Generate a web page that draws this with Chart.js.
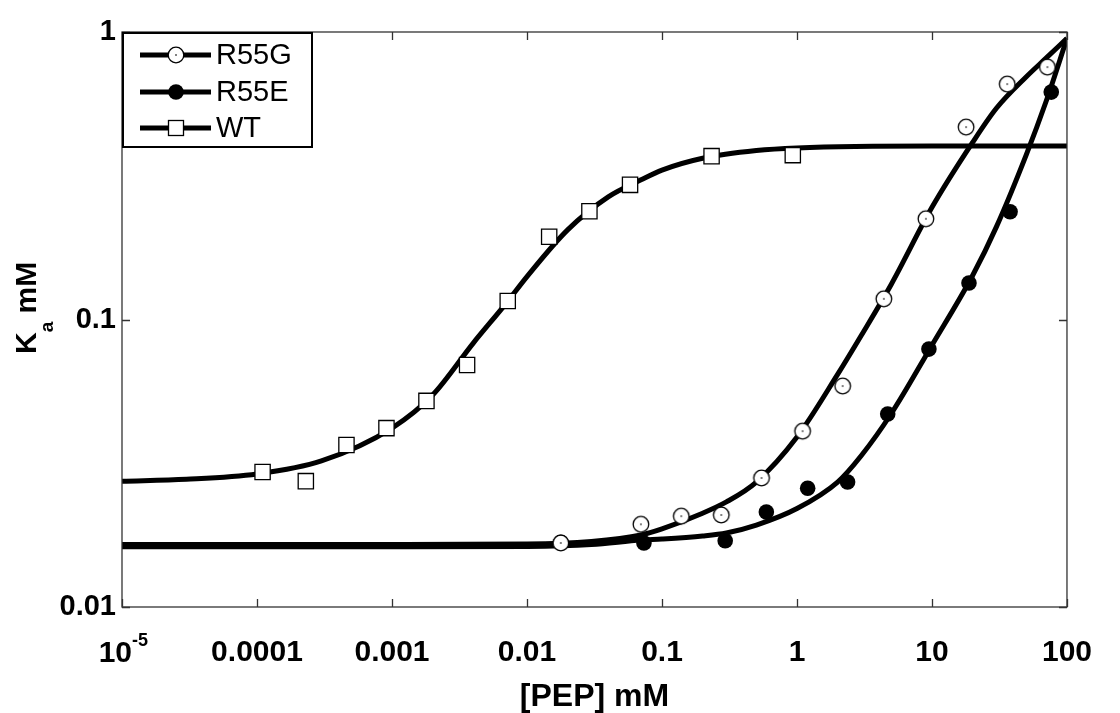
<!DOCTYPE html>
<html><head><meta charset="utf-8">
<script src="https://cdn.jsdelivr.net/npm/chart.js@4.4.0/dist/chart.umd.min.js"></script>
<style>html,body{margin:0;padding:0;background:#fff;}</style>
</head><body>
<canvas id="c" width="1120" height="713" style="width:1120px;height:713px;display:block"></canvas>
<script>
// ---- axis ticks ----
const xTickValues = [1e-5, 1e-4, 1e-3, 1e-2, 1e-1, 1, 10, 100];
const xTickLabels = ['10', '0.0001', '0.001', '0.01', '0.1', '1', '10', '100'];
const xFirstExponent = '-5';
const yTickValues = [0.01, 0.1, 1];
const yTickLabels = ['0.01', '0.1', '1'];

// ---- measured points ----
const r55gX = [0.0178, 0.0698, 0.139, 0.275, 0.546, 1.1, 2.18, 4.40, 9.02, 17.9, 36.1, 71.6];
const r55gY = [0.0167, 0.0194, 0.0207, 0.0209, 0.0281, 0.0409, 0.0587, 0.118, 0.224, 0.467, 0.659, 0.755];
const r55eX = [0.0178, 0.0735, 0.294, 0.593, 1.20, 2.37, 4.70, 9.49, 18.8, 37.9, 76.5];
const r55eY = [0.0168, 0.0167, 0.0170, 0.0214, 0.0259, 0.0272, 0.0469, 0.0789, 0.134, 0.237, 0.618];
const wtX = [1.1e-4, 2.3e-4, 4.6e-4, 9.1e-4, 1.8e-3, 3.6e-3, 7.2e-3, 0.0146, 0.029, 0.058, 0.233, 0.931];
const wtY = [0.0295, 0.0274, 0.0366, 0.0419, 0.0521, 0.0695, 0.116, 0.194, 0.238, 0.294, 0.370, 0.373];

// ---- fitted curves ----
const r55gCurveX = [1e-5, 1e-3, 0.01, 0.03, 0.07, 0.1, 0.2, 0.3, 0.5, 1, 2, 3, 5, 10, 20, 30, 50, 70, 100];
const r55gCurveY = [0.0165, 0.0165, 0.01655, 0.0169, 0.0178, 0.0187, 0.0212, 0.0232, 0.0272, 0.039, 0.0644, 0.0881, 0.1326, 0.2455, 0.413, 0.543, 0.699, 0.811, 0.95];
const r55eCurveX = [1e-5, 1e-3, 0.01, 0.03, 0.07, 0.1, 0.2, 0.3, 0.5, 1, 2, 3, 5, 10, 20, 30, 50, 70, 100];
const r55eCurveY = [0.0162, 0.0162, 0.01625, 0.0165, 0.0171, 0.01724, 0.01766, 0.01809, 0.01927, 0.0220, 0.0272, 0.03365, 0.0471, 0.0814, 0.1422, 0.210, 0.3747, 0.573, 0.95];
const wtCurveX = [1e-5, 3e-5, 1e-4, 3e-4, 1e-3, 2e-3, 4e-3, 7e-3, 0.01, 0.02, 0.04, 0.07, 0.1, 0.2, 0.5, 1, 10, 100];
const wtCurveY = [0.0274, 0.0278, 0.0290, 0.0322, 0.0419, 0.0546, 0.0828, 0.1138, 0.141, 0.205, 0.267, 0.306, 0.331, 0.364, 0.387, 0.395, 0.401, 0.401];

const seriesNames = ['R55G', 'R55E', 'WT'];
const xTitle = '[PEP] mM';
const yTitleMain = 'K', yTitleSub = 'a', yTitleRest = ' mM';

const FONT = "'Liberation Sans', Arial, Helvetica, sans-serif";
const pts = (xs, ys) => xs.map((x, i) => ({x: x, y: ys[i]}));

// open circle with centre dot marker
function makeDotCircle(r) {
  const s = Math.ceil(r * 2 + 4);
  const cv = document.createElement('canvas');
  cv.width = s; cv.height = s;
  const c = cv.getContext('2d');
  c.beginPath(); c.arc(s / 2, s / 2, r, 0, Math.PI * 2);
  c.fillStyle = '#fff'; c.fill();
  c.lineWidth = 1.3; c.strokeStyle = '#000'; c.stroke();
  c.fillStyle = '#000'; c.fillRect(s / 2 - 0.7, s / 2 - 0.7, 1.4, 1.4);
  return cv;
}
const dotCircle = makeDotCircle(7.8);

const curveStyle = {showLine: true, pointRadius: 0, borderColor: '#000', borderWidth: 5, cubicInterpolationMode: 'monotone', order: 2, fill: false};

const framePlugin = {
  id: 'frame',
  afterDraw(chart) {
    const {ctx, chartArea: a, scales: {x, y}} = chart;
    ctx.save();
    ctx.strokeStyle = '#333'; ctx.lineWidth = 1.3;
    ctx.strokeRect(a.left, a.top, a.right - a.left, a.bottom - a.top);
    const tl = 8;
    ctx.beginPath();
    xTickValues.forEach(v => {
      const px = Math.round(x.getPixelForValue(v)) + 0.5;
      ctx.moveTo(px, a.bottom); ctx.lineTo(px, a.bottom - tl);
      ctx.moveTo(px, a.top); ctx.lineTo(px, a.top + tl);
    });
    yTickValues.forEach(v => {
      const py = Math.round(y.getPixelForValue(v)) + 0.5;
      ctx.moveTo(a.left, py); ctx.lineTo(a.left + tl, py);
      ctx.moveTo(a.right, py); ctx.lineTo(a.right - tl, py);
    });
    ctx.stroke();

    // first x label with exponent
    const px0 = x.getPixelForValue(xTickValues[0]);
    ctx.fillStyle = '#000';
    ctx.textBaseline = 'middle';
    ctx.font = 'bold 30px ' + FONT;
    ctx.textAlign = 'right';
    ctx.fillText(xTickLabels[0], px0 + 10, 654);
    ctx.font = 'bold 18px ' + FONT;
    ctx.textAlign = 'left';
    ctx.fillText(xFirstExponent, px0 + 10, 641);

    // y title with subscript
    ctx.save();
    ctx.translate(36, 354);
    ctx.rotate(-Math.PI / 2);
    ctx.textAlign = 'left'; ctx.textBaseline = 'alphabetic';
    ctx.font = 'bold 30px ' + FONT;
    ctx.fillText(yTitleMain, 0, 0);
    let w = ctx.measureText(yTitleMain).width;
    ctx.font = 'bold 19px ' + FONT;
    ctx.fillText(yTitleSub, w, 17);
    w += ctx.measureText(yTitleSub).width;
    ctx.font = 'bold 30px ' + FONT;
    ctx.fillText(yTitleRest, w, 0);
    ctx.restore();

    // legend
    const lx = a.left, ly = a.top, lw = 191, lh = 116;
    ctx.fillStyle = '#fff';
    ctx.fillRect(lx, ly, lw, lh);
    ctx.strokeStyle = '#000'; ctx.lineWidth = 2;
    ctx.strokeRect(lx + 1, ly + 1, lw - 2, lh - 2);
    const rows = [ly + 23, ly + 60, ly + 96];
    chart.data.datasets.filter(d => d.legendRow !== undefined).forEach(d => {
      const ry = rows[d.legendRow];
      ctx.strokeStyle = '#000'; ctx.lineWidth = 5;
      ctx.beginPath(); ctx.moveTo(lx + 18, ry); ctx.lineTo(lx + 89, ry); ctx.stroke();
      const mx = lx + 54;
      if (d.pointStyle === 'rect') {
        ctx.fillStyle = '#fff'; ctx.fillRect(mx - 7.5, ry - 7.5, 15, 15);
        ctx.lineWidth = 1.3; ctx.strokeRect(mx - 7.5, ry - 7.5, 15, 15);
      } else if (d.pointStyle === 'circle') {
        ctx.fillStyle = '#000'; ctx.beginPath(); ctx.arc(mx, ry, 7.8, 0, Math.PI * 2); ctx.fill();
      } else {
        ctx.drawImage(d.pointStyle, mx - d.pointStyle.width / 2, ry - d.pointStyle.height / 2);
      }
      ctx.fillStyle = '#000';
      ctx.font = '29px ' + FONT;
      ctx.textAlign = 'left'; ctx.textBaseline = 'middle';
      ctx.fillText(d.label, lx + 94, ry + 1);
    });
    ctx.restore();
  }
};

new Chart(document.getElementById('c'), {
  type: 'scatter',
  data: {
    datasets: [
      {label: seriesNames[0], legendRow: 0, data: pts(r55gX, r55gY), pointStyle: dotCircle, pointRadius: 8, order: 0},
      {label: seriesNames[1], legendRow: 1, data: pts(r55eX, r55eY), pointStyle: 'circle', pointRadius: 7.8, backgroundColor: '#000', borderColor: '#000', borderWidth: 0, order: 0},
      {label: seriesNames[2], legendRow: 2, data: pts(wtX, wtY), pointStyle: 'rect', pointRadius: 10.8, backgroundColor: '#fff', borderColor: '#000', borderWidth: 1.3, order: 0},
      Object.assign({label: seriesNames[0] + ' fit', data: pts(r55gCurveX, r55gCurveY)}, curveStyle),
      Object.assign({label: seriesNames[1] + ' fit', data: pts(r55eCurveX, r55eCurveY)}, curveStyle),
      Object.assign({label: seriesNames[2] + ' fit', data: pts(wtCurveX, wtCurveY)}, curveStyle)
    ]
  },
  options: {
    responsive: false,
    animation: false,
    devicePixelRatio: 1,
    layout: {padding: {left: 0, top: 32, right: 33, bottom: 0}},
    plugins: {legend: {display: false}, tooltip: {enabled: false}},
    scales: {
      x: {
        type: 'logarithmic', min: 1e-5, max: 100,
        grid: {display: false, drawTicks: false},
        border: {display: false},
        afterBuildTicks: s => { s.ticks = xTickValues.map(v => ({value: v})); },
        afterFit: s => { s.height = 106; },
        ticks: {
          autoSkip: false, maxRotation: 0, padding: 28,
          color: '#000', font: {family: FONT, size: 30, weight: 'bold'},
          callback: (v, i) => i === 0 ? '' : xTickLabels[i]
        },
        title: {display: true, text: xTitle, color: '#000', font: {family: FONT, size: 32, weight: 'bold', lineHeight: 1}, padding: {top: 0, bottom: 0}}
      },
      y: {
        type: 'logarithmic', min: 0.01, max: 1,
        grid: {display: false, drawTicks: false},
        border: {display: false},
        afterBuildTicks: s => { s.ticks = yTickValues.map(v => ({value: v})); },
        afterFit: s => { s.width = 122; },
        ticks: {
          autoSkip: false, padding: 6,
          color: '#000', font: {family: FONT, size: 29, weight: 'bold'},
          callback: (v, i) => yTickLabels[i]
        }
      }
    }
  },
  plugins: [framePlugin]
});
</script>
</body></html>
